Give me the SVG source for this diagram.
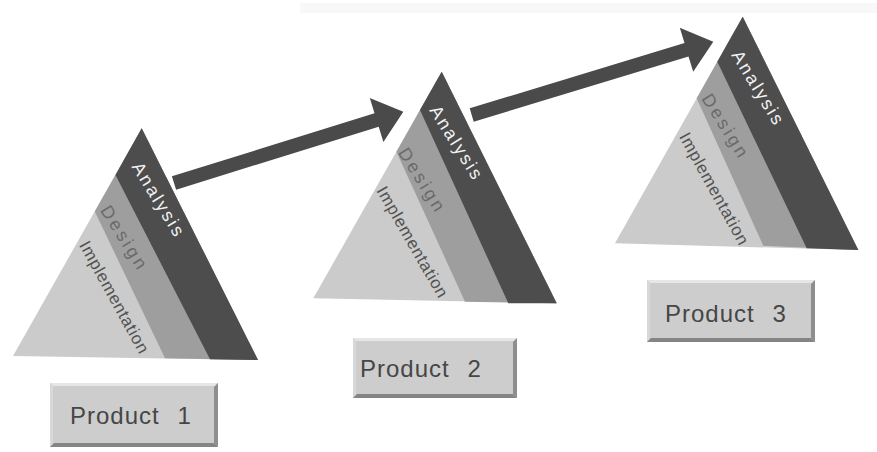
<svg xmlns="http://www.w3.org/2000/svg" width="877" height="452" viewBox="0 0 877 452">
<style>
.ana{fill:#4d4d4d}
.des{fill:#9e9e9e}
.imp{fill:#cbcbcb}
.arrow{fill:#4a4a4a}
.t{font-family:"Liberation Sans",Arial,sans-serif;text-anchor:middle;dominant-baseline:central}
.ta{fill:#f2f2f2;font-size:18px;letter-spacing:2.3px}
.td{fill:#6a6a6a;font-size:18px;letter-spacing:3px}
.ti{fill:#525252;font-size:17px;letter-spacing:0.7px}
.face{fill:#cdcdcd}
.bt{fill:#e6e6e6}
.bl{fill:#d8d8d8}
.br{fill:#8e8e8e}
.bb{fill:#858585}
.pl{font-family:"Liberation Sans",Arial,sans-serif;font-size:24px;fill:#464646;letter-spacing:1px;word-spacing:10px}
</style>
<rect x="0" y="0" width="877" height="452" fill="#ffffff"/>
<rect x="300" y="3" width="577" height="10" fill="#f8f8f8"/>

<g id="connectors">
  <polygon class="arrow" points="171.9,176.3 374.5,113.3 369.8,98.0 403.3,111.7 383.4,142.0 378.7,126.7 176.1,189.7"/>
  <polygon class="arrow" points="469.7,108.3 684.5,43.1 679.8,27.8 713.3,41.7 693.2,71.8 688.5,56.5 473.7,121.7"/>
</g>

<g id="pyramid1">
  <polygon class="imp" points="141.7,128.3 13,356 258,360"/>
  <polygon class="des" points="141.7,128.3 94.8,211.5 165,358.3 258,360"/>
  <polygon class="ana" points="141.7,128.3 115.5,175 210,359.3 258,360"/>
  <text class="t ta" transform="translate(158.7,200) rotate(58.6)">Analysis</text>
  <text class="t td" transform="translate(124.5,238.5) rotate(58)">Design</text>
  <text class="t ti" transform="translate(114.2,297.5) rotate(61)">Implementation</text>
</g>

<g id="pyramid2">
  <polygon class="imp" points="441.7,71.7 313.3,298.3 556.7,303.3"/>
  <polygon class="des" points="441.7,71.7 396.4,151.7 465,301.7 556.7,303.3"/>
  <polygon class="ana" points="441.7,71.7 420,110 508.3,303.3 556.7,303.3"/>
  <text class="t ta" transform="translate(456.7,143.3) rotate(58)">Analysis</text>
  <text class="t td" transform="translate(422.3,180.7) rotate(58)">Design</text>
  <text class="t ti" transform="translate(412.3,242.3) rotate(60)">Implementation</text>
</g>

<g id="pyramid3">
  <polygon class="imp" points="742.7,16.7 615,243.3 858.3,250"/>
  <polygon class="des" points="742.7,16.7 696.7,98.3 763.3,245.7 858.3,250"/>
  <polygon class="ana" points="742.7,16.7 717.3,61.7 806.7,248.3 858.3,250"/>
  <text class="t ta" transform="translate(758.3,88.3) rotate(58.6)">Analysis</text>
  <text class="t td" transform="translate(725.7,126.7) rotate(58)">Design</text>
  <text class="t ti" transform="translate(714,189) rotate(61)">Implementation</text>
</g>

<g id="product1">
  <rect class="face" x="50" y="383" width="168" height="64"/>
  <polygon class="bt" points="50,383 218,383 215,386 53,386"/>
  <polygon class="bl" points="50,383 53,386 53,444 50,447"/>
  <polygon class="br" points="218,383 218,447 214,443 214,387"/>
  <polygon class="bb" points="50,447 218,447 214,443 54,443"/>
  <text class="pl" x="70" y="424">Product 1</text>
</g>

<g id="product2">
  <rect class="face" x="353" y="338" width="164" height="60"/>
  <polygon class="bt" points="353,338 517,338 514,341 356,341"/>
  <polygon class="bl" points="353,338 356,341 356,395 353,398"/>
  <polygon class="br" points="517,338 517,398 513,394 513,342"/>
  <polygon class="bb" points="353,398 517,398 513,394 357,394"/>
  <text class="pl" x="360" y="377">Product 2</text>
</g>

<g id="product3">
  <rect class="face" x="647" y="280" width="168" height="62"/>
  <polygon class="bt" points="647,280 815,280 812,283 650,283"/>
  <polygon class="bl" points="647,280 650,283 650,339 647,342"/>
  <polygon class="br" points="815,280 815,342 811,338 811,284"/>
  <polygon class="bb" points="647,342 815,342 811,338 651,338"/>
  <text class="pl" x="665" y="322">Product 3</text>
</g>
</svg>
